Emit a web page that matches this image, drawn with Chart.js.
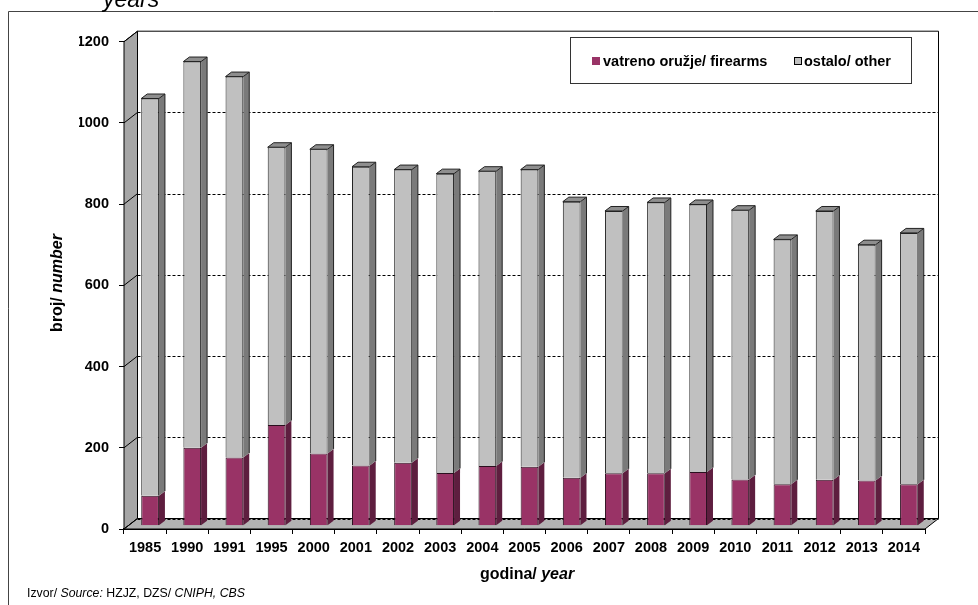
<!DOCTYPE html>
<html>
<head>
<meta charset="utf-8">
<script src="https://cdn.jsdelivr.net/npm/chart.js@4.4.1/dist/chart.umd.min.js"></script>
<style>
  html, body { margin: 0; padding: 0; background: #fff; }
  #wrap { width: 978px; height: 605px; position: relative; }
</style>
</head>
<body>
<div id="wrap"><canvas id="grafikon"></canvas></div>
<script>
// Podaci (očitano sa slike)
const godine = ['1985', '1990', '1991', '1995', '2000', '2001', '2002', '2003', '2004', '2005',
                '2006', '2007', '2008', '2009', '2010', '2011', '2012', '2013', '2014'];
const vatreno = [74, 192, 168, 248, 178, 148, 155, 130, 147, 145, 118, 129, 129, 132, 114, 102, 113, 111, 102];
const ostalo = [978, 951, 938, 684, 749, 736, 722, 737, 726, 732, 680, 646, 667, 659, 663, 603, 662, 581, 619];
const yTicks = [0, 200, 400, 600, 800, 1000, 1200];

const FONT = "'Liberation Sans', Arial, sans-serif";

// 3D efekt: dubina zidova, pomak stupaca, dubina stupaca
const ZID = { x: 13.5, y: -10.5 };
const POMAK = { x: 5, y: -3.3 };
const STUPAC = { x: 6, y: -4.5 };

const boje = {
  vatreno: { lice: '#993366', bok: '#5e1e3f', vrh: '#7a2850' },
  ostalo: { lice: '#c0c0c0', bok: '#7a7a7a', vrh: '#8e8e8e' }
};

function poligon(ctx, tocke, fill, stroke) {
  ctx.beginPath();
  ctx.moveTo(tocke[0][0], tocke[0][1]);
  for (let i = 1; i < tocke.length; i++) ctx.lineTo(tocke[i][0], tocke[i][1]);
  ctx.closePath();
  if (fill) { ctx.fillStyle = fill; ctx.fill(); }
  if (stroke) { ctx.strokeStyle = stroke; ctx.lineWidth = 1; ctx.stroke(); }
}

// tekst s dijelovima različitog stila
function mjesoviti(ctx, dijelovi, x, y, size) {
  let ukupno = 0;
  dijelovi.forEach(d => {
    ctx.font = `${d[1]} ${size}px ${FONT}`;
    ukupno += ctx.measureText(d[0]).width;
  });
  let px = x - ukupno / 2;
  dijelovi.forEach(d => {
    ctx.font = `${d[1]} ${size}px ${FONT}`;
    ctx.fillText(d[0], px, y);
    px += ctx.measureText(d[0]).width;
  });
}

const efekt3d = {
  id: 'efekt3d',
  beforeDatasetsDraw(chart) {
    const { ctx, chartArea: a, scales: { y } } = chart;
    ctx.save();
    // stražnji zid
    ctx.fillStyle = '#fff';
    ctx.fillRect(a.left + ZID.x, a.top + ZID.y, a.right - a.left, a.bottom - a.top);
    // lijevi zid
    poligon(ctx, [[a.left, a.bottom], [a.left, a.top], [a.left + ZID.x, a.top + ZID.y], [a.left + ZID.x, a.bottom + ZID.y]], '#a6a6a6', '#000');
    // pod
    poligon(ctx, [[a.left, a.bottom], [a.right, a.bottom], [a.right + ZID.x, a.bottom + ZID.y], [a.left + ZID.x, a.bottom + ZID.y]], '#b3b3b3', '#000');
    // crtkane linije mreže na stražnjem zidu
    ctx.strokeStyle = '#000';
    ctx.lineWidth = 1;
    ctx.setLineDash([3, 2]);
    yTicks.slice(0, -1).forEach(v => {
      const py = Math.round(y.getPixelForValue(v) + ZID.y) + 0.5;
      ctx.beginPath();
      ctx.moveTo(a.left + ZID.x, py);
      ctx.lineTo(a.right + ZID.x, py);
      ctx.stroke();
    });
    ctx.setLineDash([]);
    // okvir stražnjeg zida (gore i desno)
    ctx.beginPath();
    ctx.moveTo(a.left + ZID.x, a.top + ZID.y);
    ctx.lineTo(a.right + ZID.x, a.top + ZID.y);
    ctx.lineTo(a.right + ZID.x, a.bottom + ZID.y);
    ctx.stroke();
    // kose crtice na lijevom zidu
    yTicks.forEach(v => {
      const py = y.getPixelForValue(v);
      ctx.beginPath();
      ctx.moveTo(a.left, py);
      ctx.lineTo(a.left + ZID.x, py + ZID.y);
      ctx.stroke();
    });
    ctx.restore();
    ctx.save();
    ctx.translate(POMAK.x, POMAK.y);
  },
  afterDatasetsDraw(chart) {
    const { ctx } = chart;
    ctx.restore();
    ctx.save();
    ctx.lineWidth = 1;
    chart.data.datasets.forEach((ds, di) => {
      const meta = chart.getDatasetMeta(di);
      const b = di === 0 ? boje.vatreno : boje.ostalo;
      meta.data.forEach(el => {
        const x1 = el.x + el.width / 2 + POMAK.x;
        const x0 = el.x - el.width / 2 + POMAK.x;
        const yt = el.y + POMAK.y;
        const yb = el.base + POMAK.y;
        poligon(ctx, [[x1, yt], [x1 + STUPAC.x, yt + STUPAC.y], [x1 + STUPAC.x, yb + STUPAC.y], [x1, yb]], b.bok, null);
        if (di === chart.data.datasets.length - 1) {
          poligon(ctx, [[x0, yt], [x0 + STUPAC.x, yt + STUPAC.y], [x1 + STUPAC.x, yt + STUPAC.y], [x1, yt]], b.vrh, '#222');
          ctx.strokeStyle = '#222';
          ctx.beginPath();
          ctx.moveTo(x1 + STUPAC.x, yt + STUPAC.y);
          ctx.lineTo(x1 + STUPAC.x, yb + STUPAC.y);
          ctx.stroke();
        }
      });
    });
    ctx.restore();
  },
  afterDraw(chart) {
    const { ctx } = chart;
    ctx.save();
    // vanjski okvir (gore i lijevo)
    ctx.strokeStyle = '#444';
    ctx.lineWidth = 1;
    ctx.beginPath();
    ctx.moveTo(978, 11.5);
    ctx.lineTo(8.5, 11.5);
    ctx.lineTo(8.5, 605);
    ctx.stroke();

    ctx.fillStyle = '#000';
    ctx.textBaseline = 'alphabetic';
    // naslov (odrezan)
    ctx.font = `italic 23px ${FONT}`;
    ctx.textAlign = 'left';
    ctx.fillText('years', 103, 7);

    // legenda
    ctx.fillStyle = '#fff';
    ctx.fillRect(570, 37, 342, 47);
    ctx.strokeStyle = '#333';
    ctx.strokeRect(570.5, 37.5, 341, 46);
    ctx.fillStyle = boje.vatreno.lice;
    ctx.fillRect(592, 57, 8, 8);
    ctx.fillStyle = boje.ostalo.lice;
    ctx.fillRect(794, 57, 8, 8);
    ctx.strokeStyle = '#000';
    ctx.strokeRect(794.5, 57.5, 7, 7);
    ctx.fillStyle = '#000';
    ctx.font = `bold 14.5px ${FONT}`;
    ctx.textBaseline = 'middle';
    ctx.fillText(chart.data.datasets[0].label, 603, 62);
    ctx.fillText(chart.data.datasets[1].label, 804, 62);

    // naslovi osi
    mjesoviti(ctx, [['godina/ ', 'bold'], ['year', 'italic bold']], 527, 575, 16);
    ctx.save();
    ctx.translate(58, 283);
    ctx.rotate(-Math.PI / 2);
    mjesoviti(ctx, [['broj/ ', 'bold'], ['number', 'italic bold']], 0, 0, 16);
    ctx.restore();

    // izvor
    ctx.textAlign = 'left';
    let px = 27;
    [['Izvor/ ', ''], ['Source:', 'italic'], [' HZJZ, DZS/ ', ''], ['CNIPH, CBS', 'italic']].forEach(d => {
      ctx.font = `${d[1]} 12.3px ${FONT}`;
      ctx.fillText(d[0], px, 594);
      px += ctx.measureText(d[0]).width;
    });
    ctx.restore();
  }
};

new Chart(document.getElementById('grafikon'), {
  type: 'bar',
  data: {
    labels: godine,
    datasets: [
      {
        label: 'vatreno oružje/ firearms',
        data: vatreno,
        backgroundColor: boje.vatreno.lice,
        borderColor: '#2a0f1e',
        borderWidth: 1,
        barPercentage: 0.42,
        categoryPercentage: 1
      },
      {
        label: 'ostalo/ other',
        data: ostalo,
        backgroundColor: boje.ostalo.lice,
        borderColor: '#222',
        borderWidth: 1,
        barPercentage: 0.42,
        categoryPercentage: 1
      }
    ]
  },
  options: {
    responsive: true,
    maintainAspectRatio: false,
    animation: false,
    layout: { padding: { left: 79, right: 53, top: 41.7, bottom: 46 } },
    plugins: {
      legend: { display: false },
      tooltip: { enabled: false }
    },
    scales: {
      x: {
        stacked: true,
        offset: true,
        grid: { drawOnChartArea: false, offset: true, tickLength: 5, color: '#000' },
        border: { color: '#000', width: 2 },
        ticks: { font: { family: FONT, size: 14.5, weight: 'bold' }, color: '#000', padding: 5, maxRotation: 0, autoSkip: false },
        afterFit: s => { s.height = 30; }
      },
      y: {
        stacked: true,
        min: 0,
        max: 1200,
        afterBuildTicks: s => { s.ticks = yTicks.map(v => ({ value: v })); },
        grid: { drawOnChartArea: false, tickLength: 5, color: '#000' },
        border: { color: '#000', width: 1 },
        ticks: { font: { family: FONT, size: 14.5, weight: 'bold' }, color: '#000', padding: 10, callback: v => String(v) },
        afterFit: s => { s.width = 45; }
      }
    }
  },
  plugins: [efekt3d]
});
</script>
</body>
</html>
